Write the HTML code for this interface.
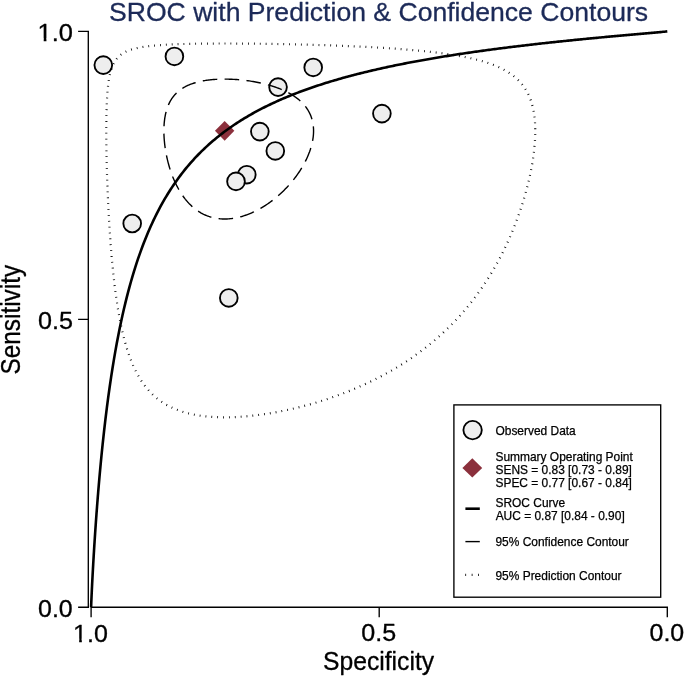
<!DOCTYPE html>
<html><head><meta charset="utf-8"><title>SROC</title>
<style>html,body{margin:0;padding:0;background:#fff}svg{display:block}</style></head>
<body>
<svg width="685" height="678" viewBox="0 0 685 678" font-family="&apos;Liberation Sans&apos;, Arial, Helvetica, sans-serif">
<rect width="685" height="678" fill="#fff"/>
<text transform="translate(109.00,21.00) scale(0.9961,1)" font-size="26.7" fill="#1c2a58" stroke="#1c2a58" stroke-width="0.3" stroke-linejoin="round">SROC with Prediction &amp; Confidence Contours</text>
<g stroke="#000" stroke-width="1.35" fill="none">
<path d="M78.1,31.4 H88.3 V607.2 H78.1 M78.1,319.3 H88.3 M91.1,617.2 V607.2 H667.3 V617.2 M379.2,607.2 V617.2"/>
</g>
<text transform="translate(37.53,41.40) scale(1.0743,1)" font-size="23.7" fill="#000" stroke="#000" stroke-width="0.3" stroke-linejoin="round">1.0</text><g transform="translate(37.53,41.40) scale(1.0743,1)" fill="#fff"><rect x="-0.47" y="-2.96" width="6.21" height="4.98"/><rect x="8.29" y="-2.96" width="5.21" height="4.98"/></g>
<text transform="translate(37.89,329.40) scale(1.0629,1)" font-size="23.7" fill="#000" stroke="#000" stroke-width="0.3" stroke-linejoin="round">0.5</text>
<text transform="translate(38.00,617.30) scale(1.0532,1)" font-size="23.7" fill="#000" stroke="#000" stroke-width="0.3" stroke-linejoin="round">0.0</text>
<text transform="translate(73.07,641.50) scale(1.0574,1)" font-size="23.7" fill="#000" stroke="#000" stroke-width="0.3" stroke-linejoin="round">1.0</text><g transform="translate(73.07,641.50) scale(1.0574,1)" fill="#fff"><rect x="-0.47" y="-2.96" width="6.21" height="4.98"/><rect x="8.29" y="-2.96" width="5.21" height="4.98"/></g>
<text transform="translate(361.30,641.40) scale(1.0597,1)" font-size="23.7" fill="#000" stroke="#000" stroke-width="0.3" stroke-linejoin="round">0.5</text>
<text transform="translate(649.50,641.40) scale(1.0532,1)" font-size="23.7" fill="#000" stroke="#000" stroke-width="0.3" stroke-linejoin="round">0.0</text>
<text transform="translate(322.99,670.30) scale(0.9879,1)" font-size="25.0" fill="#000" stroke="#000" stroke-width="0.3" stroke-linejoin="round">Specificity</text>
<text transform="translate(20.15,374.50) rotate(-90) scale(0.9744,1.1)" font-size="25.0" fill="#000" stroke="#000" stroke-width="0.3" stroke-linejoin="round">Sensitivity</text>
<g fill="#eeeeee" stroke="#000" stroke-width="1.85">
<circle cx="103.3" cy="65.1" r="8.85"/>
<circle cx="174.4" cy="56.4" r="8.85"/>
<circle cx="278.05" cy="87.1" r="8.85"/>
<circle cx="313.2" cy="67.4" r="8.85"/>
<circle cx="381.9" cy="113.6" r="8.85"/>
<circle cx="259.85" cy="131.6" r="8.85"/>
<circle cx="275.3" cy="150.95" r="8.85"/>
<circle cx="246.8" cy="174.7" r="8.85"/>
<circle cx="236.0" cy="181.4" r="8.85"/>
<circle cx="132.2" cy="223.5" r="8.85"/>
<circle cx="228.8" cy="297.9" r="8.85"/>
</g>
<path d="M214.95000000000002,130.8 L224.65,120.9 L234.35,130.8 L224.65,140.70000000000002Z" fill="#8b303c"/>
<path d="M91.10,607.20 L91.10,607.18 L91.16,605.52 L91.22,604.03 L91.27,602.60 L91.33,601.22 L91.39,599.87 L91.45,598.55 L91.51,597.25 L91.56,595.97 L91.62,594.71 L91.68,593.46 L91.74,592.23 L91.80,591.01 L91.85,589.80 L91.91,588.61 L91.97,587.43 L92.03,586.26 L92.08,585.09 L92.14,583.94 L92.20,582.80 L92.26,581.67 L92.32,580.54 L92.37,579.42 L92.43,578.32 L92.49,577.22 L92.55,576.12 L92.61,575.04 L92.66,573.96 L92.72,572.89 L92.78,571.83 L92.84,570.77 L92.90,569.72 L92.95,568.67 L93.01,567.64 L93.07,566.60 L93.13,565.58 L93.19,564.56 L93.24,563.54 L93.30,562.54 L93.36,561.53 L93.42,560.54 L93.47,559.55 L93.53,558.56 L93.59,557.58 L93.65,556.60 L93.71,555.63 L93.76,554.67 L93.82,553.70 L93.88,552.75 L93.94,551.80 L94.00,550.85 L94.05,549.91 L94.11,548.97 L94.17,548.04 L94.23,547.11 L94.29,546.19 L94.34,545.27 L94.40,544.36 L94.46,543.44 L94.52,542.54 L94.57,541.64 L94.63,540.74 L94.69,539.84 L94.75,538.95 L94.81,538.07 L94.86,537.19 L94.92,536.31 L94.98,535.44 L95.04,534.57 L95.10,533.70 L95.15,532.84 L95.21,531.98 L95.27,531.12 L95.33,530.27 L95.39,529.42 L95.44,528.58 L95.50,527.74 L95.56,526.90 L95.62,526.07 L95.68,525.24 L95.73,524.41 L95.79,523.58 L95.85,522.76 L95.91,521.95 L95.96,521.13 L96.02,520.32 L96.08,519.52 L96.14,518.71 L96.20,517.91 L96.25,517.11 L96.31,516.32 L96.37,515.53 L96.43,514.74 L96.49,513.96 L96.54,513.17 L96.60,512.39 L96.66,511.62 L96.72,510.84 L96.78,510.07 L96.83,509.31 L96.89,508.54 L96.95,507.78 L97.01,507.02 L97.06,506.27 L97.12,505.51 L97.18,504.76 L97.24,504.02 L97.30,503.27 L97.35,502.53 L97.41,501.79 L97.47,501.05 L97.53,500.32 L97.59,499.59 L97.64,498.86 L97.70,498.13 L97.76,497.41 L97.82,496.69 L97.88,495.97 L97.93,495.25 L97.99,494.54 L98.05,493.83 L98.11,493.12 L98.17,492.42 L98.22,491.71 L98.28,491.01 L98.34,490.31 L98.40,489.62 L98.45,488.92 L98.51,488.23 L98.57,487.54 L98.63,486.86 L98.69,486.17 L98.74,485.49 L98.80,484.81 L98.86,484.13 L98.92,483.46 L98.98,482.78 L99.03,482.11 L99.09,481.45 L99.15,480.78 L99.21,480.12 L99.27,479.45 L99.32,478.79 L99.38,478.14 L99.44,477.48 L99.50,476.83 L99.55,476.18 L99.61,475.53 L99.67,474.88 L99.73,474.24 L99.79,473.59 L99.84,472.95 L99.90,472.31 L99.96,471.68 L100.02,471.04 L100.08,470.41 L100.13,469.78 L100.19,469.15 L100.25,468.52 L100.31,467.90 L100.37,467.28 L100.42,466.66 L100.48,466.04 L100.54,465.42 L100.60,464.81 L100.66,464.19 L100.71,463.58 L100.77,462.97 L100.83,462.37 L100.89,461.76 L100.94,461.16 L101.00,460.55 L101.06,459.95 L101.12,459.36 L101.18,458.76 L101.23,458.17 L101.29,457.57 L101.35,456.98 L101.41,456.39 L101.47,455.81 L101.52,455.22 L101.58,454.64 L101.64,454.05 L101.70,453.47 L101.76,452.89 L101.81,452.32 L101.87,451.74 L101.93,451.17 L101.99,450.60 L102.04,450.03 L102.10,449.46 L102.16,448.89 L102.22,448.33 L102.28,447.76 L102.33,447.20 L102.39,446.64 L102.45,446.08 L102.51,445.52 L102.57,444.97 L102.62,444.41 L102.62,444.41 L104.04,431.35 L105.45,419.13 L106.87,407.66 L108.28,396.87 L109.70,386.70 L111.12,377.08 L112.53,367.98 L113.95,359.34 L115.36,351.14 L116.78,343.33 L118.19,335.89 L119.61,328.79 L121.02,322.00 L122.44,315.51 L123.85,309.30 L125.27,303.34 L126.68,297.61 L128.10,292.12 L129.51,286.83 L130.93,281.75 L132.34,276.85 L133.76,272.12 L135.17,267.57 L136.59,263.17 L138.00,258.92 L139.42,254.82 L140.84,250.84 L142.25,247.00 L143.67,243.27 L145.08,239.66 L146.50,236.16 L147.91,232.77 L149.33,229.48 L150.74,226.28 L152.16,223.17 L153.57,220.15 L154.99,217.21 L156.40,214.35 L157.82,211.57 L159.23,208.86 L160.65,206.22 L162.06,203.65 L163.48,201.15 L164.89,198.71 L166.31,196.32 L167.72,194.00 L169.14,191.73 L170.55,189.51 L171.97,187.35 L173.39,185.24 L174.80,183.17 L176.22,181.15 L177.63,179.17 L179.05,177.24 L180.46,175.35 L181.88,173.50 L183.29,171.69 L184.71,169.92 L186.12,168.18 L187.54,166.48 L188.95,164.81 L190.37,163.18 L191.78,161.58 L193.20,160.01 L194.61,158.47 L196.03,156.96 L197.44,155.48 L198.86,154.02 L200.27,152.60 L201.69,151.19 L203.11,149.82 L204.52,148.47 L205.94,147.14 L207.35,145.84 L208.77,144.56 L210.18,143.30 L211.60,142.06 L213.01,140.84 L214.43,139.65 L215.84,138.47 L217.26,137.32 L218.67,136.18 L220.09,135.06 L221.50,133.96 L222.92,132.87 L224.33,131.81 L225.75,130.76 L227.16,129.72 L228.58,128.70 L229.99,127.70 L231.41,126.71 L232.82,125.74 L234.24,124.78 L235.66,123.84 L237.07,122.91 L238.49,121.99 L239.90,121.09 L241.32,120.20 L242.73,119.32 L244.15,118.46 L245.56,117.60 L246.98,116.76 L248.39,115.93 L249.81,115.11 L251.22,114.30 L252.64,113.50 L254.05,112.72 L255.47,111.94 L256.88,111.18 L258.30,110.42 L259.71,109.67 L261.13,108.94 L262.54,108.21 L263.96,107.49 L265.38,106.78 L266.79,106.08 L268.21,105.39 L269.62,104.71 L271.04,104.03 L272.45,103.37 L273.87,102.71 L275.28,102.06 L276.70,101.41 L278.11,100.78 L279.53,100.15 L280.94,99.53 L282.36,98.92 L283.77,98.31 L285.19,97.71 L286.60,97.12 L288.02,96.53 L289.43,95.95 L290.85,95.38 L292.26,94.81 L293.68,94.25 L295.09,93.70 L296.51,93.15 L297.93,92.61 L299.34,92.07 L300.76,91.54 L302.17,91.01 L303.59,90.49 L305.00,89.98 L306.42,89.47 L307.83,88.97 L309.25,88.47 L310.66,87.97 L312.08,87.49 L313.49,87.00 L314.91,86.52 L316.32,86.05 L317.74,85.58 L319.15,85.12 L320.57,84.66 L321.98,84.20 L323.40,83.75 L324.81,83.30 L326.23,82.86 L327.65,82.42 L329.06,81.99 L330.48,81.56 L331.89,81.13 L333.31,80.71 L334.72,80.29 L336.14,79.88 L337.55,79.47 L338.97,79.06 L340.38,78.66 L341.80,78.26 L343.21,77.86 L344.63,77.47 L346.04,77.08 L347.46,76.70 L348.87,76.32 L350.29,75.94 L351.70,75.56 L353.12,75.19 L354.53,74.82 L355.95,74.46 L357.36,74.09 L358.78,73.73 L360.20,73.38 L361.61,73.02 L363.03,72.67 L364.44,72.33 L365.86,71.98 L367.27,71.64 L368.69,71.30 L370.10,70.97 L371.52,70.63 L372.93,70.30 L374.35,69.97 L375.76,69.65 L377.18,69.32 L378.59,69.00 L380.01,68.69 L381.42,68.37 L382.84,68.06 L384.25,67.75 L385.67,67.44 L387.08,67.13 L388.50,66.83 L389.92,66.53 L391.33,66.23 L392.75,65.93 L394.16,65.64 L395.58,65.35 L396.99,65.06 L398.41,64.77 L399.82,64.49 L401.24,64.20 L402.65,63.92 L404.07,63.64 L405.48,63.36 L406.90,63.09 L408.31,62.81 L409.73,62.54 L411.14,62.27 L412.56,62.01 L413.97,61.74 L415.39,61.48 L416.80,61.21 L418.22,60.95 L419.63,60.70 L421.05,60.44 L422.47,60.18 L423.88,59.93 L425.30,59.68 L426.71,59.43 L428.13,59.18 L429.54,58.94 L430.96,58.69 L432.37,58.45 L433.79,58.21 L435.20,57.97 L436.62,57.73 L438.03,57.49 L439.45,57.26 L440.86,57.02 L442.28,56.79 L443.69,56.56 L445.11,56.33 L446.52,56.10 L447.94,55.88 L449.35,55.65 L450.77,55.43 L452.18,55.21 L453.60,54.99 L455.02,54.77 L456.43,54.55 L457.85,54.33 L459.26,54.12 L460.68,53.90 L462.09,53.69 L463.51,53.48 L464.92,53.27 L466.34,53.06 L467.75,52.85 L469.17,52.65 L470.58,52.44 L472.00,52.24 L473.41,52.03 L474.83,51.83 L476.24,51.63 L477.66,51.43 L479.07,51.23 L480.49,51.04 L481.90,50.84 L483.32,50.65 L484.74,50.45 L486.15,50.26 L487.57,50.07 L488.98,49.88 L490.40,49.69 L491.81,49.50 L493.23,49.31 L494.64,49.13 L496.06,48.94 L497.47,48.76 L498.89,48.57 L500.30,48.39 L501.72,48.21 L503.13,48.03 L504.55,47.85 L505.96,47.67 L507.38,47.49 L508.79,47.32 L510.21,47.14 L511.62,46.97 L513.04,46.79 L514.45,46.62 L515.87,46.45 L517.29,46.28 L518.70,46.11 L520.12,45.94 L521.53,45.77 L522.95,45.60 L524.36,45.43 L525.78,45.27 L527.19,45.10 L528.61,44.94 L530.02,44.77 L531.44,44.61 L532.85,44.45 L534.27,44.29 L535.68,44.13 L537.10,43.97 L538.51,43.81 L539.93,43.65 L541.34,43.49 L542.76,43.33 L544.17,43.18 L545.59,43.02 L547.01,42.87 L548.42,42.71 L549.84,42.56 L551.25,42.41 L552.67,42.26 L554.08,42.10 L555.50,41.95 L556.91,41.80 L558.33,41.65 L559.74,41.51 L561.16,41.36 L562.57,41.21 L563.99,41.06 L565.40,40.92 L566.82,40.77 L568.23,40.63 L569.65,40.48 L571.06,40.34 L572.48,40.19 L573.89,40.05 L575.31,39.91 L576.72,39.77 L578.14,39.63 L579.56,39.49 L580.97,39.35 L582.39,39.21 L583.80,39.07 L585.22,38.93 L586.63,38.79 L588.05,38.66 L589.46,38.52 L590.88,38.38 L592.29,38.25 L593.71,38.11 L595.12,37.98 L596.54,37.84 L597.95,37.71 L599.37,37.57 L600.78,37.44 L602.20,37.31 L603.61,37.18 L605.03,37.04 L606.44,36.91 L607.86,36.78 L609.28,36.65 L610.69,36.52 L612.11,36.39 L613.52,36.26 L614.94,36.13 L616.35,36.00 L617.77,35.88 L619.18,35.75 L620.60,35.62 L622.01,35.49 L623.43,35.37 L624.84,35.24 L626.26,35.11 L627.67,34.99 L629.09,34.86 L630.50,34.73 L631.92,34.61 L633.33,34.48 L634.75,34.36 L636.16,34.23 L637.58,34.11 L638.99,33.98 L640.41,33.86 L641.83,33.73 L643.24,33.61 L644.66,33.48 L646.07,33.36 L647.49,33.23 L648.90,33.11 L650.32,32.98 L651.73,32.86 L653.15,32.73 L654.56,32.61 L655.98,32.48 L657.39,32.35 L658.81,32.22 L660.22,32.09 L661.64,31.96 L663.05,31.83 L664.47,31.70 L665.88,31.56 L667.30,31.40 L667.30,31.40" fill="none" stroke="#000" stroke-width="2.6" stroke-linejoin="round"/>
<path d="M224.60,79.11 L225.79,79.11 L226.98,79.12 L228.18,79.15 L229.39,79.18 L230.61,79.22 L231.82,79.27 L233.05,79.33 L234.28,79.40 L235.51,79.47 L236.75,79.56 L238.00,79.66 L239.24,79.76 L240.49,79.87 L241.75,80.00 L243.00,80.13 L244.26,80.27 L245.51,80.42 L246.77,80.58 L248.03,80.75 L249.29,80.93 L250.55,81.12 L251.81,81.32 L253.07,81.53 L254.33,81.75 L255.58,81.97 L256.84,82.21 L258.08,82.46 L259.33,82.72 L260.57,82.98 L261.81,83.26 L263.04,83.55 L264.27,83.85 L265.50,84.15 L266.71,84.47 L267.92,84.80 L269.13,85.14 L270.32,85.49 L271.51,85.85 L272.69,86.22 L273.86,86.60 L275.02,86.99 L276.17,87.39 L277.31,87.81 L278.44,88.23 L279.56,88.67 L280.67,89.11 L281.76,89.57 L282.85,90.04 L283.92,90.52 L284.97,91.01 L286.02,91.52 L287.05,92.03 L288.06,92.56 L289.06,93.10 L290.04,93.65 L291.01,94.21 L291.97,94.78 L292.90,95.37 L293.82,95.97 L294.72,96.58 L295.61,97.20 L296.47,97.83 L297.32,98.48 L298.15,99.14 L298.96,99.81 L299.76,100.49 L300.53,101.19 L301.28,101.89 L302.01,102.61 L302.73,103.35 L303.42,104.09 L304.09,104.85 L304.74,105.62 L305.37,106.40 L305.97,107.20 L306.56,108.00 L307.12,108.82 L307.66,109.65 L308.18,110.50 L308.67,111.35 L309.14,112.22 L309.59,113.10 L310.01,114.00 L310.42,114.90 L310.79,115.82 L311.15,116.75 L311.48,117.69 L311.79,118.64 L312.07,119.60 L312.33,120.58 L312.56,121.56 L312.77,122.56 L312.96,123.57 L313.12,124.59 L313.25,125.62 L313.36,126.66 L313.45,127.71 L313.51,128.77 L313.55,129.84 L313.56,130.92 L313.55,132.00 L313.51,133.10 L313.45,134.21 L313.36,135.32 L313.25,136.45 L313.12,137.58 L312.96,138.72 L312.77,139.87 L312.56,141.02 L312.33,142.18 L312.07,143.35 L311.79,144.52 L311.48,145.70 L311.15,146.88 L310.79,148.07 L310.42,149.27 L310.01,150.46 L309.59,151.67 L309.14,152.87 L308.67,154.08 L308.18,155.29 L307.66,156.50 L307.12,157.72 L306.56,158.93 L305.97,160.15 L305.37,161.36 L304.74,162.58 L304.09,163.80 L303.42,165.01 L302.73,166.22 L302.01,167.43 L301.28,168.64 L300.53,169.85 L299.76,171.05 L298.96,172.24 L298.15,173.44 L297.32,174.62 L296.47,175.81 L295.61,176.98 L294.72,178.15 L293.82,179.31 L292.90,180.47 L291.97,181.61 L291.01,182.75 L290.04,183.88 L289.06,184.99 L288.06,186.10 L287.05,187.20 L286.02,188.28 L284.97,189.36 L283.92,190.42 L282.85,191.47 L281.76,192.50 L280.67,193.52 L279.56,194.53 L278.44,195.52 L277.31,196.50 L276.17,197.46 L275.02,198.41 L273.86,199.34 L272.69,200.25 L271.51,201.14 L270.32,202.02 L269.13,202.88 L267.92,203.72 L266.71,204.54 L265.50,205.34 L264.27,206.13 L263.04,206.89 L261.81,207.63 L260.57,208.35 L259.33,209.05 L258.08,209.73 L256.84,210.39 L255.58,211.02 L254.33,211.63 L253.07,212.22 L251.81,212.79 L250.55,213.33 L249.29,213.85 L248.03,214.34 L246.77,214.81 L245.51,215.26 L244.26,215.68 L243.00,216.08 L241.75,216.46 L240.49,216.80 L239.24,217.13 L238.00,217.43 L236.75,217.70 L235.51,217.94 L234.28,218.17 L233.05,218.36 L231.82,218.53 L230.61,218.67 L229.39,218.79 L228.18,218.88 L226.98,218.95 L225.79,218.99 L224.60,219.00 L223.42,218.99 L222.25,218.95 L221.08,218.88 L219.92,218.79 L218.78,218.67 L217.64,218.53 L216.51,218.36 L215.38,218.17 L214.27,217.94 L213.17,217.70 L212.08,217.43 L211.00,217.13 L209.93,216.80 L208.86,216.46 L207.81,216.08 L206.77,215.68 L205.75,215.26 L204.73,214.81 L203.72,214.34 L202.73,213.85 L201.75,213.33 L200.78,212.79 L199.82,212.22 L198.87,211.63 L197.94,211.02 L197.01,210.39 L196.11,209.73 L195.21,209.05 L194.32,208.35 L193.45,207.63 L192.59,206.89 L191.74,206.13 L190.91,205.34 L190.09,204.54 L189.28,203.72 L188.49,202.88 L187.70,202.02 L186.93,201.14 L186.18,200.25 L185.43,199.34 L184.70,198.41 L183.99,197.46 L183.28,196.50 L182.59,195.52 L181.91,194.53 L181.25,193.52 L180.60,192.50 L179.96,191.47 L179.33,190.42 L178.72,189.36 L178.12,188.28 L177.53,187.20 L176.96,186.10 L176.40,184.99 L175.85,183.88 L175.31,182.75 L174.79,181.61 L174.28,180.47 L173.78,179.31 L173.30,178.15 L172.82,176.98 L172.37,175.81 L171.92,174.62 L171.48,173.44 L171.06,172.24 L170.65,171.05 L170.26,169.85 L169.87,168.64 L169.50,167.43 L169.14,166.22 L168.79,165.01 L168.46,163.80 L168.13,162.58 L167.82,161.36 L167.52,160.15 L167.24,158.93 L166.96,157.72 L166.70,156.50 L166.45,155.29 L166.21,154.08 L165.98,152.87 L165.77,151.67 L165.56,150.46 L165.37,149.27 L165.19,148.07 L165.02,146.88 L164.87,145.70 L164.72,144.52 L164.59,143.35 L164.47,142.18 L164.36,141.02 L164.26,139.87 L164.17,138.72 L164.10,137.58 L164.04,136.45 L163.98,135.32 L163.94,134.21 L163.91,133.10 L163.90,132.00 L163.89,130.92 L163.90,129.84 L163.91,128.77 L163.94,127.71 L163.98,126.66 L164.04,125.62 L164.10,124.59 L164.17,123.57 L164.26,122.56 L164.36,121.56 L164.47,120.58 L164.59,119.60 L164.72,118.64 L164.87,117.69 L165.02,116.75 L165.19,115.82 L165.37,114.90 L165.56,114.00 L165.77,113.10 L165.98,112.22 L166.21,111.35 L166.45,110.50 L166.70,109.65 L166.96,108.82 L167.24,108.00 L167.52,107.20 L167.82,106.40 L168.13,105.62 L168.46,104.85 L168.79,104.09 L169.14,103.35 L169.50,102.61 L169.87,101.89 L170.26,101.19 L170.65,100.49 L171.06,99.81 L171.48,99.14 L171.92,98.48 L172.37,97.83 L172.82,97.20 L173.30,96.58 L173.78,95.97 L174.28,95.37 L174.79,94.78 L175.31,94.21 L175.85,93.65 L176.40,93.10 L176.96,92.56 L177.53,92.03 L178.12,91.52 L178.72,91.01 L179.33,90.52 L179.96,90.04 L180.60,89.57 L181.25,89.11 L181.91,88.67 L182.59,88.23 L183.28,87.81 L183.99,87.39 L184.70,86.99 L185.43,86.60 L186.18,86.22 L186.93,85.85 L187.70,85.49 L188.49,85.14 L189.28,84.80 L190.09,84.47 L190.91,84.15 L191.74,83.85 L192.59,83.55 L193.45,83.26 L194.32,82.98 L195.21,82.72 L196.11,82.46 L197.01,82.21 L197.94,81.97 L198.87,81.75 L199.82,81.53 L200.78,81.32 L201.75,81.12 L202.73,80.93 L203.72,80.75 L204.73,80.58 L205.75,80.42 L206.77,80.27 L207.81,80.13 L208.86,80.00 L209.93,79.87 L211.00,79.76 L212.08,79.66 L213.17,79.56 L214.27,79.47 L215.38,79.40 L216.51,79.33 L217.64,79.27 L218.78,79.22 L219.92,79.18 L221.08,79.15 L222.25,79.12 L223.42,79.11Z" fill="none" stroke="#000" stroke-width="1.4" stroke-dasharray="14.578 7.344"/>
<path d="M224.60,43.51 L228.52,43.51 L232.53,43.52 L236.61,43.54 L240.76,43.56 L244.98,43.59 L249.28,43.63 L253.64,43.67 L258.07,43.72 L262.55,43.78 L267.10,43.84 L271.70,43.92 L276.35,43.99 L281.06,44.08 L285.80,44.17 L290.59,44.28 L295.41,44.38 L300.26,44.50 L305.15,44.63 L310.05,44.76 L314.98,44.90 L319.92,45.05 L324.87,45.21 L329.82,45.38 L334.77,45.55 L339.73,45.74 L344.67,45.94 L349.60,46.14 L354.51,46.36 L359.40,46.59 L364.26,46.82 L369.10,47.07 L373.90,47.33 L378.66,47.61 L383.38,47.89 L388.05,48.19 L392.68,48.50 L397.25,48.82 L401.76,49.16 L406.22,49.52 L410.61,49.88 L414.94,50.27 L419.21,50.67 L423.40,51.08 L427.52,51.52 L431.57,51.97 L435.55,52.44 L439.45,52.93 L443.27,53.44 L447.01,53.96 L450.67,54.51 L454.25,55.09 L457.75,55.68 L461.17,56.30 L464.50,56.94 L467.76,57.61 L470.92,58.30 L474.01,59.02 L477.01,59.77 L479.93,60.54 L482.76,61.35 L485.51,62.18 L488.18,63.05 L490.77,63.95 L493.28,64.89 L495.70,65.86 L498.05,66.86 L500.32,67.90 L502.50,68.98 L504.61,70.10 L506.64,71.26 L508.60,72.47 L510.48,73.71 L512.28,75.00 L514.01,76.34 L515.67,77.72 L517.25,79.15 L518.76,80.63 L520.20,82.16 L521.57,83.74 L522.88,85.38 L524.11,87.07 L525.27,88.82 L526.37,90.62 L527.40,92.48 L528.37,94.40 L529.27,96.38 L530.10,98.42 L530.87,100.52 L531.58,102.69 L532.23,104.92 L532.81,107.22 L533.33,109.58 L533.78,112.01 L534.18,114.50 L534.51,117.07 L534.79,119.70 L535.00,122.40 L535.15,125.17 L535.24,128.01 L535.27,130.92 L535.24,133.89 L535.15,136.94 L535.00,140.05 L534.79,143.23 L534.51,146.48 L534.18,149.79 L533.78,153.17 L533.33,156.61 L532.81,160.11 L532.23,163.68 L531.58,167.31 L530.87,170.99 L530.10,174.73 L529.27,178.52 L528.37,182.37 L527.40,186.26 L526.37,190.21 L525.27,194.19 L524.11,198.22 L522.88,202.29 L521.57,206.39 L520.20,210.52 L518.76,214.68 L517.25,218.87 L515.67,223.08 L514.01,227.31 L512.28,231.56 L510.48,235.82 L508.60,240.09 L506.64,244.36 L504.61,248.63 L502.50,252.90 L500.32,257.17 L498.05,261.42 L495.70,265.66 L493.28,269.89 L490.77,274.09 L488.18,278.27 L485.51,282.43 L482.76,286.55 L479.93,290.64 L477.01,294.70 L474.01,298.71 L470.92,302.68 L467.76,306.61 L464.50,310.49 L461.17,314.32 L457.75,318.10 L454.25,321.82 L450.67,325.48 L447.01,329.09 L443.27,332.64 L439.45,336.12 L435.55,339.54 L431.57,342.89 L427.52,346.17 L423.40,349.39 L419.21,352.53 L414.94,355.61 L410.61,358.61 L406.22,361.54 L401.76,364.40 L397.25,367.18 L392.68,369.89 L388.05,372.53 L383.38,375.08 L378.66,377.57 L373.90,379.97 L369.10,382.30 L364.26,384.56 L359.40,386.73 L354.51,388.83 L349.60,390.86 L344.67,392.81 L339.73,394.68 L334.77,396.47 L329.82,398.19 L324.87,399.84 L319.92,401.41 L314.98,402.90 L310.05,404.32 L305.15,405.66 L300.26,406.93 L295.41,408.12 L290.59,409.24 L285.80,410.29 L281.06,411.26 L276.35,412.17 L271.70,412.99 L267.10,413.75 L262.55,414.43 L258.07,415.04 L253.64,415.58 L249.28,416.04 L244.98,416.43 L240.76,416.76 L236.61,417.01 L232.53,417.19 L228.52,417.29 L224.60,417.33 L220.75,417.29 L216.99,417.19 L213.30,417.01 L209.70,416.76 L206.18,416.43 L202.74,416.04 L199.39,415.58 L196.12,415.04 L192.93,414.43 L189.83,413.75 L186.81,412.99 L183.87,412.17 L181.02,411.26 L178.24,410.29 L175.55,409.24 L172.93,408.12 L170.39,406.93 L167.93,405.66 L165.55,404.32 L163.24,402.90 L161.00,401.41 L158.83,399.84 L156.74,398.19 L154.71,396.47 L152.75,394.68 L150.85,392.81 L149.02,390.86 L147.26,388.83 L145.55,386.73 L143.90,384.56 L142.31,382.30 L140.78,379.97 L139.30,377.57 L137.87,375.08 L136.49,372.53 L135.17,369.89 L133.89,367.18 L132.66,364.40 L131.47,361.54 L130.33,358.61 L129.23,355.61 L128.17,352.53 L127.15,349.39 L126.17,346.17 L125.23,342.89 L124.32,339.54 L123.45,336.12 L122.61,332.64 L121.80,329.09 L121.03,325.48 L120.28,321.82 L119.57,318.10 L118.88,314.32 L118.22,310.49 L117.58,306.61 L116.97,302.68 L116.39,298.71 L115.83,294.70 L115.29,290.64 L114.77,286.55 L114.28,282.43 L113.80,278.27 L113.35,274.09 L112.91,269.89 L112.50,265.66 L112.10,261.42 L111.72,257.17 L111.35,252.90 L111.00,248.63 L110.67,244.36 L110.35,240.09 L110.05,235.82 L109.76,231.56 L109.49,227.31 L109.23,223.08 L108.98,218.87 L108.74,214.68 L108.52,210.52 L108.31,206.39 L108.11,202.29 L107.92,198.22 L107.75,194.19 L107.58,190.21 L107.42,186.26 L107.28,182.37 L107.15,178.52 L107.02,174.73 L106.91,170.99 L106.80,167.31 L106.71,163.68 L106.62,160.11 L106.55,156.61 L106.48,153.17 L106.42,149.79 L106.38,146.48 L106.34,143.23 L106.30,140.05 L106.28,136.94 L106.27,133.89 L106.26,130.92 L106.27,128.01 L106.28,125.17 L106.30,122.40 L106.34,119.70 L106.38,117.07 L106.42,114.50 L106.48,112.01 L106.55,109.58 L106.62,107.22 L106.71,104.92 L106.80,102.69 L106.91,100.52 L107.02,98.42 L107.15,96.38 L107.28,94.40 L107.42,92.48 L107.58,90.62 L107.75,88.82 L107.92,87.07 L108.11,85.38 L108.31,83.74 L108.52,82.16 L108.74,80.63 L108.98,79.15 L109.23,77.72 L109.49,76.34 L109.76,75.00 L110.05,73.71 L110.35,72.47 L110.67,71.26 L111.00,70.10 L111.35,68.98 L111.72,67.90 L112.10,66.86 L112.50,65.86 L112.91,64.89 L113.35,63.95 L113.80,63.05 L114.28,62.18 L114.77,61.35 L115.29,60.54 L115.83,59.77 L116.39,59.02 L116.97,58.30 L117.58,57.61 L118.22,56.94 L118.88,56.30 L119.57,55.68 L120.28,55.09 L121.03,54.51 L121.80,53.96 L122.61,53.44 L123.45,52.93 L124.32,52.44 L125.23,51.97 L126.17,51.52 L127.15,51.08 L128.17,50.67 L129.23,50.27 L130.33,49.88 L131.47,49.52 L132.66,49.16 L133.89,48.82 L135.17,48.50 L136.49,48.19 L137.87,47.89 L139.30,47.61 L140.78,47.33 L142.31,47.07 L143.90,46.82 L145.55,46.59 L147.26,46.36 L149.02,46.14 L150.85,45.94 L152.75,45.74 L154.71,45.55 L156.74,45.38 L158.83,45.21 L161.00,45.05 L163.24,44.90 L165.55,44.76 L167.93,44.63 L170.39,44.50 L172.93,44.38 L175.55,44.28 L178.24,44.17 L181.02,44.08 L183.87,43.99 L186.81,43.92 L189.83,43.84 L192.93,43.78 L196.12,43.72 L199.39,43.67 L202.74,43.63 L206.18,43.59 L209.70,43.56 L213.30,43.54 L216.99,43.52 L220.75,43.51Z" fill="none" stroke="#000" stroke-width="2.2" stroke-dasharray="0.8 5.073"/>
<rect x="453.9" y="404.9" width="206.8" height="192.3" fill="#fff" stroke="#000" stroke-width="1.35"/>
<circle cx="472.6" cy="430.1" r="9.2" fill="#eeeeee" stroke="#000" stroke-width="1.85"/>
<path d="M462.40000000000003,467.9 L472.3,458.29999999999995 L482.2,467.9 L472.3,477.5Z" fill="#8b303c"/>
<path d="M465.4,508.7 H479.8" stroke="#000" stroke-width="2.6"/>
<path d="M465.4,541.6 H479.8" stroke="#000" stroke-width="1.4"/>
<path d="M465.3,574.8 H480" stroke="#000" stroke-width="2.2" stroke-dasharray="0.8 5.6"/>
<text transform="translate(495.46,434.60) scale(1.0000,1)" font-size="11.95" fill="#000" stroke="#000" stroke-width="0.25" stroke-linejoin="round">Observed Data</text>
<text transform="translate(495.46,460.90) scale(1.0000,1)" font-size="11.95" fill="#000" stroke="#000" stroke-width="0.25" stroke-linejoin="round">Summary Operating Point</text>
<text transform="translate(495.46,473.90) scale(1.0000,1)" font-size="11.95" fill="#000" stroke="#000" stroke-width="0.25" stroke-linejoin="round">SENS = 0.83 [0.73 - 0.89]</text>
<text transform="translate(495.46,486.90) scale(1.0000,1)" font-size="11.95" fill="#000" stroke="#000" stroke-width="0.25" stroke-linejoin="round">SPEC = 0.77 [0.67 - 0.84]</text>
<text transform="translate(495.46,506.50) scale(1.0000,1)" font-size="11.95" fill="#000" stroke="#000" stroke-width="0.25" stroke-linejoin="round">SROC Curve</text>
<text transform="translate(495.64,519.70) scale(1.0000,1)" font-size="11.95" fill="#000" stroke="#000" stroke-width="0.25" stroke-linejoin="round">AUC = 0.87 [0.84 - 0.90]</text>
<text transform="translate(495.46,545.90) scale(1.0000,1)" font-size="11.95" fill="#000" stroke="#000" stroke-width="0.25" stroke-linejoin="round">95% Confidence Contour</text>
<text transform="translate(495.46,579.50) scale(1.0000,1)" font-size="11.95" fill="#000" stroke="#000" stroke-width="0.25" stroke-linejoin="round">95% Prediction Contour</text>
</svg>
</body></html>
